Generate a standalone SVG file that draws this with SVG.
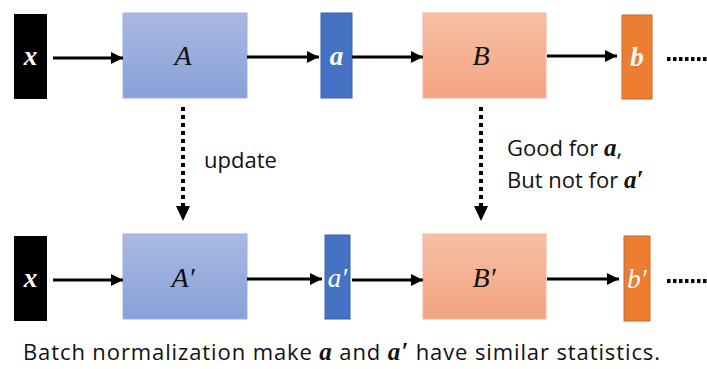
<svg xmlns="http://www.w3.org/2000/svg" width="707" height="369" viewBox="0 0 707 369">
<defs>
<linearGradient id="gA" x1="0" y1="0" x2="0" y2="1"><stop offset="0" stop-color="#aab8e2"/><stop offset="1" stop-color="#88a1d8"/></linearGradient>
<linearGradient id="gB" x1="0" y1="0" x2="0" y2="1"><stop offset="0" stop-color="#f6bfa4"/><stop offset="1" stop-color="#f3a482"/></linearGradient>
<marker id="ah" viewBox="0 0 10 10" refX="10" refY="5" markerWidth="4" markerHeight="4" markerUnits="strokeWidth" orient="auto"><path d="M0,0 L10,5 L0,10 z" fill="#000"/></marker>
<style>
.in{fill:#000}
.A{fill:url(#gA);stroke:#9bb0e0;stroke-width:1}
.B{fill:url(#gB);stroke:#f5b598;stroke-width:1}
.a{fill:#4472c4;stroke:#3a62a8;stroke-width:1}
.b{fill:#ed7d31;stroke:#c8682a;stroke-width:1}
.m{font-family:"Liberation Serif","DejaVu Serif",serif;font-style:italic;text-anchor:middle}
.w{fill:#fff;font-weight:bold}
.big{font-size:28px;fill:#111}
.sm{font-size:27px}
.t{font-family:"Open Sans","Noto Sans",sans-serif;font-size:22px;fill:#111}
.mi{font-family:"Liberation Serif",serif;font-style:italic;font-weight:bold;font-size:25px}
.con{stroke:#000;stroke-width:3;fill:none}
.dot{stroke:#000;stroke-width:4;fill:none;stroke-dasharray:4 4}
.dots{stroke:#000;stroke-width:4;fill:none;stroke-dasharray:3.5 2.5}
</style>
</defs>
<g id="x1"><rect class="in" x="14" y="14" width="33" height="85"/><text class="m w sm" x="30.5" y="65">x</text></g>
<g id="A"><rect class="A" x="123" y="13" width="124" height="85"/><text class="m big" x="183" y="65">A</text></g>
<g id="a"><rect class="a" x="321" y="13" width="31" height="85"/><text class="m w sm" x="336.5" y="65">a</text></g>
<g id="B"><rect class="B" x="423" y="13" width="123" height="85"/><text class="m big" x="481" y="65">B</text></g>
<g id="b"><rect class="b" x="622" y="15" width="30" height="84"/><text class="m w sm" x="637" y="66">b</text></g>

<g id="x2"><rect class="in" x="14" y="236" width="33" height="85"/><text class="m w sm" x="30.5" y="287">x</text></g>
<g id="A2"><rect class="A" x="123" y="234" width="124" height="85"/><text class="m big" x="183" y="287">A′</text></g>
<g id="a2"><rect class="a" x="325" y="235" width="25" height="84"/><text class="m sm" fill="#fff" x="337.5" y="287">a′</text></g>
<g id="B2"><rect class="B" x="423" y="234" width="123" height="85"/><text class="m big" x="484" y="287">B′</text></g>
<g id="b2"><rect class="b" x="624" y="236" width="26" height="85"/><text class="m sm" fill="#fff" x="637" y="288">b′</text></g>

<g id="connectors">
<line class="con" x1="53" y1="58" x2="123" y2="58" marker-end="url(#ah)"/>
<line class="con" x1="247" y1="57" x2="319" y2="57" marker-end="url(#ah)"/>
<line class="con" x1="352" y1="57" x2="423" y2="57" marker-end="url(#ah)"/>
<line class="con" x1="547" y1="56" x2="617" y2="56" marker-end="url(#ah)"/>
<line class="dots" x1="667" y1="59" x2="707" y2="59"/>
<line class="con" x1="53" y1="280" x2="123" y2="280" marker-end="url(#ah)"/>
<line class="con" x1="247" y1="279" x2="322" y2="279" marker-end="url(#ah)"/>
<line class="con" x1="352" y1="280" x2="423" y2="280" marker-end="url(#ah)"/>
<line class="con" x1="547" y1="279" x2="619" y2="279" marker-end="url(#ah)"/>
<line class="dots" x1="667" y1="281" x2="707" y2="281"/>
<line class="dot" x1="183" y1="107" x2="183" y2="206"/>
<path d="M176,206 L190,206 L183,221 z" fill="#000"/>
<line class="dot" x1="481" y1="107" x2="481" y2="206"/>
<path d="M474,206 L488,206 L481,221 z" fill="#000"/>
</g>

<text class="t" x="204" y="168" font-size="24">update</text>
<text class="t" x="507" y="156">Good for <tspan class="mi">a</tspan>,</text>
<text class="t" x="507" y="188">But not for <tspan class="mi">a′</tspan></text>
<text class="t" x="23" y="360" font-size="20" textLength="637">Batch normalization make <tspan class="mi" font-size="22">a</tspan> and <tspan class="mi" font-size="22">a′</tspan> have similar statistics.</text>
</svg>
